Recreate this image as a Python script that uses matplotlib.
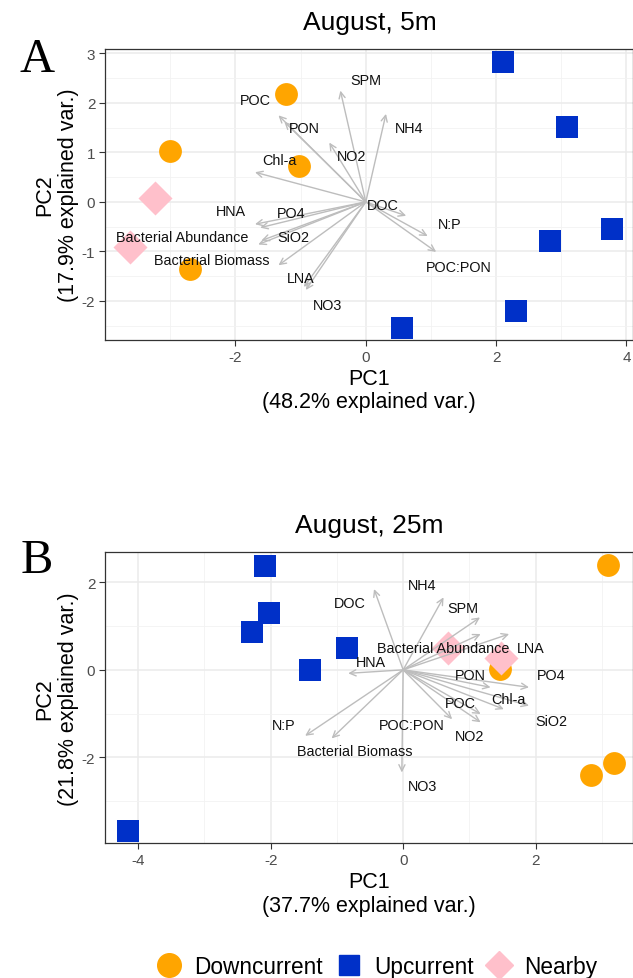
import numpy as np
import matplotlib as mpl
import matplotlib.pyplot as plt
from matplotlib.lines import Line2D

plt.rcParams['font.family'] = ['Liberation Sans', 'DejaVu Sans']
plt.rcParams['axes.unicode_minus'] = False

# ---- panel A: August, 5m ----
a_down_x = [-1.22, -3.00, -1.03, -2.69]
a_down_y = [2.18, 1.02, 0.73, -1.36]
a_up_x = [2.10, 3.09, 3.78, 2.83, 2.31, 0.56]
a_up_y = [2.83, 1.51, -0.55, -0.79, -2.21, -2.54]
a_near_x = [-3.23, -3.61]
a_near_y = [0.07, -0.92]

a_vars = ['POC', 'PON', 'SPM', 'NH4', 'NO2', 'Chl-a', 'DOC', 'N:P', 'POC:PON',
          'HNA', 'PO4', 'SiO2', 'Bacterial Abundance', 'Bacterial Biomass',
          'LNA', 'NO3']
a_tip_x = [-1.34, -1.25, -0.39, 0.31, -0.56, -1.70, 0.62, 0.95, 1.08,
           -1.70, -1.62, -1.60, -1.65, -1.34, -0.95, -0.92]
a_tip_y = [1.75, 1.62, 2.25, 1.78, 1.20, 0.60, -0.28, -0.69, -1.01,
           -0.45, -0.52, -0.78, -0.86, -1.28, -1.72, -1.78]
a_lab_x = [-1.70, -0.94, 0.00, 0.67, -0.22, -1.32, 0.26, 1.28, 1.43,
           -2.07, -1.15, -1.11, -2.82, -2.37, -1.00, -0.58]
a_lab_y = [2.06, 1.49, 2.47, 1.49, 0.93, 0.85, -0.06, -0.45, -1.31,
           -0.18, -0.23, -0.70, -0.70, -1.18, -1.54, -2.09]

# ---- panel B: August, 25m ----
b_down_x = [3.10, 1.46, 2.84, 3.18]
b_down_y = [2.40, 0.03, -2.41, -2.14]
b_up_x = [-2.08, -2.02, -2.28, -0.85, -1.41, -4.15]
b_up_y = [2.38, 1.30, 0.87, 0.50, 0.00, -3.68]
b_near_x = [0.68, 1.48]
b_near_y = [0.51, 0.26]

b_vars = ['DOC', 'NH4', 'SPM', 'Bacterial Abundance', 'LNA', 'HNA', 'PON',
          'PO4', 'Chl-a', 'SiO2', 'POC', 'NO2', 'POC:PON', 'N:P',
          'Bacterial Biomass', 'NO3']
b_tip_x = [-0.44, 0.61, 1.16, 1.17, 1.60, -0.83, 1.32, 1.90, 1.52, 1.90,
           1.17, 1.17, 0.74, -1.48, -1.08, -0.02]
b_tip_y = [1.85, 1.66, 1.20, 0.82, 0.82, -0.08, -0.40, -0.40, -0.90, -0.82,
           -1.01, -1.20, -1.13, -1.51, -1.57, -2.35]
b_lab_x = [-0.81, 0.28, 0.90, 0.60, 1.93, -0.48, 1.01, 2.23, 1.59, 2.23,
           0.87, 1.01, 0.13, -1.80, -0.73, 0.29]
b_lab_y = [1.54, 1.94, 1.41, 0.51, 0.51, 0.19, -0.11, -0.11, -0.67, -1.17,
           -0.75, -1.52, -1.27, -1.26, -1.85, -2.65]

ORANGE = '#FFA500'
BLUE = '#0030C8'
PINK = '#FFC0CB'
ARROW = '#BDBDBD'


def panel(ax, down, up, near, tips, labs, names, xlim, ylim,
          xt, yt, xminor, yminor):
    ax.set_xticks(xt)
    ax.set_yticks(yt)
    ax.set_xticks(xminor, minor=True)
    ax.set_yticks(yminor, minor=True)
    ax.set_xlim(*xlim)
    ax.set_ylim(*ylim)
    ax.grid(which='major', color='#EBEBEB', lw=1.1)
    ax.grid(which='minor', color='#F2F2F2', lw=0.6)
    ax.set_axisbelow(True)
    ax.tick_params(which='minor', length=0)
    ax.tick_params(which='major', length=4, color='#333333', labelsize=11,
                   labelcolor='#4D4D4D', pad=3)
    for sp in ax.spines.values():
        sp.set_color('#333333')
        sp.set_linewidth(0.9)
    ax.scatter(*down, s=270, marker='o', color=ORANGE, zorder=3, lw=0)
    ax.scatter(*up, s=240, marker='s', color=BLUE, zorder=3, lw=0)
    ax.scatter(*near, s=300, marker='D', color=PINK, zorder=3.5, lw=0)
    for tx, ty in zip(*tips):
        ax.annotate('', xy=(tx, ty), xytext=(0, 0),
                    arrowprops=dict(arrowstyle='->,head_length=0.45,head_width=0.22',
                                    color=ARROW, lw=1.0, shrinkA=0, shrinkB=0),
                    zorder=4)
    for n, lx, ly in zip(names, *labs):
        ax.text(lx, ly, n, ha='center', va='center', fontsize=10.4,
                color='#111111', zorder=5)


fig = plt.figure(figsize=(6.33, 9.79), dpi=100)

axA = fig.add_axes([0.166, 0.6517, 0.834, 0.2972])
panel(axA, (a_down_x, a_down_y), (a_up_x, a_up_y), (a_near_x, a_near_y),
      (a_tip_x, a_tip_y), (a_lab_x, a_lab_y), a_vars,
      (-4.0, 4.1), (-2.79, 3.09), [-2, 0, 2, 4], [-2, -1, 0, 1, 2, 3],
      [-3, -1, 1, 3], [-2.5, -1.5, -0.5, 0.5, 1.5, 2.5])
axA.set_xlabel('PC1\n(48.2% explained var.)', fontsize=15.5, labelpad=3,
               linespacing=1.15)
axA.set_ylabel('PC2\n(17.9% explained var.)', fontsize=15.5, labelpad=2,
               linespacing=1.15)

axB = fig.add_axes([0.166, 0.1376, 0.834, 0.2972])
panel(axB, (b_down_x, b_down_y), (b_up_x, b_up_y), (b_near_x, b_near_y),
      (b_tip_x, b_tip_y), (b_lab_x, b_lab_y), b_vars,
      (-4.5, 3.47), (-3.97, 2.69), [-4, -2, 0, 2], [-2, 0, 2],
      [-3, -1, 1, 3], [-3, -1, 1])
axB.set_xlabel('PC1\n(37.7% explained var.)', fontsize=15.5, labelpad=3,
               linespacing=1.15)
axB.set_ylabel('PC2\n(21.8% explained var.)', fontsize=15.5, labelpad=2,
               linespacing=1.15)

fig.text(0.585, 0.977, 'August, 5m', ha='center', va='center', fontsize=19)
fig.text(0.583, 0.463, 'August, 25m', ha='center', va='center', fontsize=19)
fig.text(0.058, 0.939, 'A', ha='center', va='center', fontsize=35,
         family='Liberation Serif')
fig.text(0.058, 0.427, 'B', ha='center', va='center', fontsize=35,
         family='Liberation Serif')

handles = [
    Line2D([], [], ls='none', marker='o', ms=17, color=ORANGE, label='Downcurrent'),
    Line2D([], [], ls='none', marker='s', ms=15, color=BLUE, label='Upcurrent'),
    Line2D([], [], ls='none', marker='D', ms=14, color=PINK, label='Nearby'),
]
fig.legend(handles=handles, loc='center', bbox_to_anchor=(0.595, 0.012),
           ncol=3, frameon=False, fontsize=16.3, handletextpad=0.5,
           columnspacing=0.55, handlelength=1.2)

fig.savefig('out.png', dpi=100)
